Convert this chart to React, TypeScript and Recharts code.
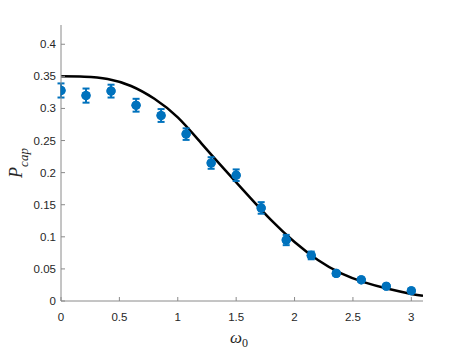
import React from 'react';
import { ComposedChart, Line, Scatter, XAxis, YAxis, ErrorBar } from 'recharts';

const omega = [0, 0.2143, 0.4286, 0.6429, 0.8571, 1.0714, 1.2857, 1.5, 1.7143, 1.9286, 2.1429, 2.3571, 2.5714, 2.7857, 3.0];
const pcap = [0.328, 0.320, 0.327, 0.305, 0.289, 0.260, 0.215, 0.196, 0.145, 0.095, 0.071, 0.043, 0.033, 0.023, 0.016];
const pcapErr = [0.011, 0.011, 0.010, 0.010, 0.010, 0.009, 0.009, 0.009, 0.009, 0.008, 0.006, 0.004, 0.003, 0.003, 0.002];

const fitOmega = [0, 0.2, 0.4, 0.6, 0.8, 1.0, 1.2, 1.4, 1.6, 1.8, 2.0, 2.2, 2.4, 2.6, 2.8, 3.0, 3.1];
const fitP = [0.350, 0.3495, 0.346, 0.335, 0.315, 0.286, 0.246, 0.205, 0.165, 0.126, 0.092, 0.064, 0.043, 0.029, 0.019, 0.011, 0.008];

const xTicks = [0, 0.5, 1, 1.5, 2, 2.5, 3];
const yTicks = [0, 0.05, 0.1, 0.15, 0.2, 0.25, 0.3, 0.35, 0.4];

const points = omega.map((x, i) => ({ x, y: pcap[i], err: pcapErr[i] }));
const fit = fitOmega.map((x, i) => ({ x, fy: fitP[i] }));

const AXIS = '#8a8a8a';
const TEXT = '#262626';
const BLUE = '#0072BD';
const TICKFONT = '"Liberation Sans", Arial, Helvetica, sans-serif';
const SERIF = '"Liberation Serif", "Times New Roman", serif';

const YTick = (props: any) => {
  const { x, y, payload } = props;
  return (
    <g>
      <line x1={x} y1={y} x2={x + 4} y2={y} stroke={AXIS} strokeWidth={1} />
      <text x={x - 5} y={y} dy="0.35em" textAnchor="end" fontSize={11.5} fill={TEXT} fontFamily={TICKFONT}>
        {String(payload.value)}
      </text>
    </g>
  );
};

const XTick = (props: any) => {
  const { x, y, payload } = props;
  return (
    <g>
      <line x1={x} y1={y} x2={x} y2={y - 4} stroke={AXIS} strokeWidth={1} />
      <text x={x} y={y + 20} textAnchor="middle" fontSize={11.5} fill={TEXT} fontFamily={TICKFONT}>
        {String(payload.value)}
      </text>
    </g>
  );
};

const YLabel = (props: any) => {
  const vb = props.viewBox || {};
  const cx = 22;
  const cy = (vb.y ?? 25) + (vb.height ?? 276) / 2;
  return (
    <text x={cx} y={cy} transform={`rotate(-90, ${cx}, ${cy})`} textAnchor="middle" fill={TEXT} fontFamily={SERIF}>
      <tspan fontStyle="italic" fontSize={18}>P</tspan>
      <tspan fontStyle="italic" fontSize={13} dy={6}>cap</tspan>
    </text>
  );
};

const XLabel = (props: any) => {
  const vb = props.viewBox || {};
  const cx = (vb.x ?? 61) + (vb.width ?? 362) / 2 - 3;
  const cy = (vb.y ?? 301) + 42;
  return (
    <text x={cx} y={cy} textAnchor="middle" fill={TEXT} fontFamily={SERIF}>
      <tspan fontStyle="italic" fontSize={17}>ω</tspan>
      <tspan fontSize={12} dy={4}>0</tspan>
    </text>
  );
};

const Dot = (p: any) => <circle cx={p.cx} cy={p.cy} r={4.6} fill={BLUE} />;

export default function App() {
  return (
    <div style={{ position: 'absolute', left: 0, top: 0, background: '#fff' }}>
      <ComposedChart width={467} height={350} margin={{ top: 25, right: 44, bottom: 0, left: 0 }}>
        <XAxis
          type="number"
          dataKey="x"
          domain={[0, 3.1]}
          ticks={xTicks}
          allowDataOverflow
          height={49}
          tickSize={0}
          tickMargin={0}
          tickLine={false}
          tick={<XTick />}
          axisLine={{ stroke: AXIS, strokeWidth: 1 }}
          label={{ content: <XLabel /> }}
        />
        <YAxis
          type="number"
          domain={[0, 0.43]}
          ticks={yTicks}
          allowDataOverflow
          width={61}
          tickSize={0}
          tickMargin={0}
          tickLine={false}
          tick={<YTick />}
          axisLine={{ stroke: AXIS, strokeWidth: 1 }}
          label={{ content: <YLabel /> }}
        />
        <Line
          data={fit}
          dataKey="fy"
          type="natural"
          stroke="#000"
          strokeWidth={2.5}
          dot={false}
          activeDot={false}
          isAnimationActive={false}
        />
        <Scatter data={points} dataKey="y" shape={<Dot />} isAnimationActive={false}>
          <ErrorBar dataKey="err" direction="y" width={3.5} strokeWidth={2} stroke={BLUE} isAnimationActive={false} />
        </Scatter>
        <Scatter data={points} dataKey="y" shape={<Dot />} isAnimationActive={false} />
      </ComposedChart>
    </div>
  );
}
